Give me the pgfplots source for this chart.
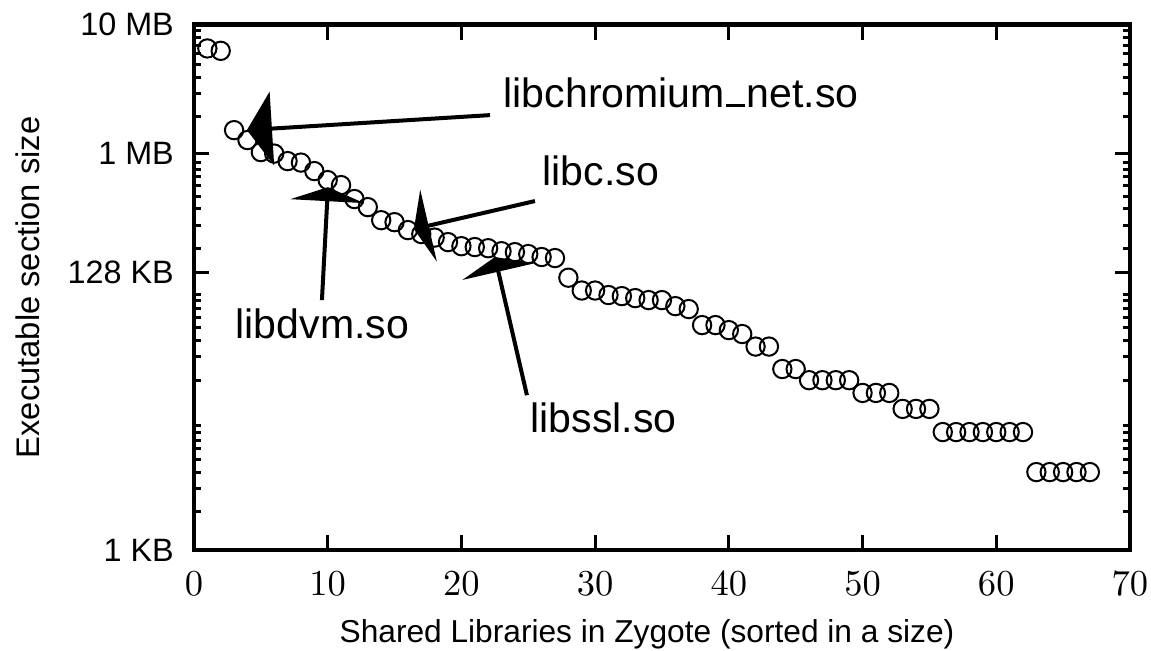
\documentclass[border=0pt]{standalone}
\usepackage{fontspec}
\setmainfont{Liberation Sans}
\usepackage{pgfplots}
\pgfplotsset{compat=1.18}
\usetikzlibrary{arrows.meta}
\newcommand{\us}{\kern0.04em\rule{0.46em}{0.065em}\kern0.04em}

\pgfplotstableread{
x y
1 6447
2 6183
3 1545
4 1298
5 1052
6 1025
7 899
8 876
9 755
10 645
11 591
12 463
13 402
14 320
15 309
16 269
17 251
18 236
19 218
20 203
21 200
22 196
23 186
24 183
25 177
26 168
27 165
28 117
29 93.5
30 93.5
31 86.4
32 84.8
33 81.9
34 79.1
35 79.1
36 71.2
37 67.6
38 51.1
39 51.1
40 46.8
41 43.7
42 35.1
43 35.1
44 23.7
45 23.7
46 19.5
47 19.5
48 19.5
49 19.5
50 15.6
51 15.6
52 15.6
53 11.8
54 11.8
55 11.8
56 7.87
57 7.87
58 7.87
59 7.87
60 7.87
61 7.87
62 7.87
63 3.91
64 3.91
65 3.91
66 3.91
67 3.91
}\sizes

\begin{document}
\begin{tikzpicture}
\begin{axis}[
  scale only axis, width=280.6pt, height=157.5pt,
  at={(0,0)}, anchor=south west,
  ymode=log, log basis y=10,
  xmin=0, xmax=70, ymin=1, ymax=9765.625,
  xtick={0,10,...,70},
  ytick={1,128,1024,9765.625},
  yticklabels={1 KB,128 KB,1 MB,10 MB},
  minor ytick={1.953125,2.9296875,3.90625,4.8828125,5.859375,6.8359375,7.8125,8.7890625,
    19.53125,29.296875,39.0625,48.828125,58.59375,68.359375,78.125,87.890625,
    195.3125,292.96875,390.625,488.28125,585.9375,683.59375,781.25,878.90625,
    1953.125,2929.6875,3906.25,4882.8125,5859.375,6835.9375,7812.5,8789.0625},
  tick align=inside,
  major tick length=4.5pt, minor tick length=2.2pt,
  every tick/.style={black, line width=0.9pt},
  axis line style={line width=1.4pt},
  yticklabel style={font=\fontsize{9.7}{11}\selectfont, xshift=-2.5pt},
  xticklabel style={font=\fontsize{10.5}{12}\selectfont, yshift=-3pt},
  xlabel={Shared Libraries in Zygote (sorted in a size)},
  ylabel={Executable section size},
  xlabel style={font=\fontsize{9.5}{11}\selectfont, at={(axis description cs:0.484,-0.16)}, anchor=center},
  ylabel style={font=\fontsize{9.8}{11}\selectfont, at={(axis description cs:-0.177,0.5)}, anchor=center},
  clip=false,
]
\addplot[only marks, mark=o, mark size=2.75pt, mark options={draw=black, fill=white, line width=0.6pt}] table[x=x, y=y] {\sizes};

\draw[line width=1.2pt, -{Triangle[length=7.5pt 0 0,width=22pt 0 0]}] (axis cs:22.14,2009) -- (axis cs:3.96,1545);
\draw[line width=1.2pt, -{Triangle[length=4.5pt 0 0,width=22pt 0 0]}] (axis cs:25.5,447) -- (axis cs:16.45,274);
\draw[line width=1.2pt, -{Triangle[length=4.2pt 0 0,width=22pt 0 0]}] (axis cs:9.57,79.1) -- (axis cs:10.02,570);
\draw[line width=1.2pt, -{Triangle[length=4.5pt 0 0,width=22pt 0 0]}] (axis cs:24.9,15.0) -- (axis cs:22.51,168);

\node[anchor=base west, inner sep=0pt, font=\fontsize{12.3}{14}\selectfont] at (axis cs:23.11,2311) {libchromium\us net.so};
\node[anchor=base west, inner sep=0pt, font=\fontsize{12.3}{14}\selectfont] at (axis cs:26.03,591) {libc.so};
\node[anchor=base west, inner sep=0pt, font=\fontsize{12.3}{14}\selectfont] at (axis cs:3.07,40.7) {libdvm.so};
\node[anchor=base west, inner sep=0pt, font=\fontsize{12.3}{14}\selectfont] at (axis cs:25.13,7.87) {libssl.so};
\end{axis}
\pgfresetboundingbox
\useasboundingbox (-58.15pt,-29.98pt) rectangle (286.9pt,164.9pt);
\end{tikzpicture}
\end{document}
